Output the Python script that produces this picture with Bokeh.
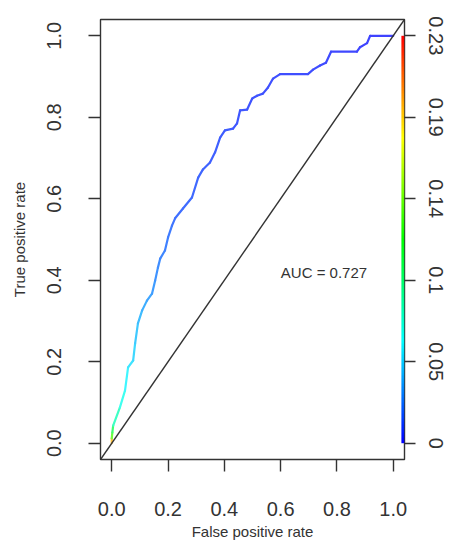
import colorsys
import numpy as np
from bokeh.plotting import figure
from bokeh.models import Range1d, LinearAxis, FixedTicker, Slope, LinearColorMapper, ColumnDataSource, Label
from bokeh.transform import linear_cmap
from bokeh.embed import file_html
from bokeh.resources import INLINE

# ---- data ----
fpr = [0.000, 0.000, 0.002, 0.005, 0.029, 0.047, 0.058, 0.076, 0.083, 0.093,
       0.108, 0.125, 0.143, 0.154, 0.164, 0.172, 0.189, 0.200, 0.214, 0.225,
       0.253, 0.285, 0.307, 0.324, 0.349, 0.367, 0.385, 0.402, 0.431, 0.445,
       0.456, 0.481, 0.499, 0.516, 0.537, 0.555, 0.573, 0.598, 0.697, 0.715,
       0.740, 0.761, 0.779, 0.871, 0.882, 0.907, 0.918, 1.000]
tpr = [0.000, 0.012, 0.026, 0.043, 0.088, 0.129, 0.186, 0.203, 0.245, 0.294,
       0.326, 0.350, 0.367, 0.399, 0.431, 0.453, 0.473, 0.505, 0.534, 0.552,
       0.576, 0.603, 0.652, 0.672, 0.689, 0.714, 0.750, 0.768, 0.772, 0.785,
       0.817, 0.819, 0.846, 0.853, 0.858, 0.873, 0.895, 0.906, 0.906, 0.917,
       0.927, 0.934, 0.961, 0.961, 0.972, 0.982, 1.000, 1.000]
cutoff = [0.230, 0.190, 0.130, 0.100, 0.075, 0.062, 0.055, 0.050, 0.046, 0.042,
          0.038, 0.034, 0.031, 0.028, 0.026, 0.024, 0.022, 0.020, 0.018, 0.017,
          0.015, 0.014, 0.013, 0.012, 0.011, 0.010, 0.010, 0.009, 0.009, 0.008,
          0.008, 0.008, 0.007, 0.007, 0.007, 0.006, 0.006, 0.006, 0.005, 0.005,
          0.005, 0.004, 0.004, 0.003, 0.003, 0.002, 0.002, 0.001]

x_ticks = [0.0, 0.2, 0.4, 0.6, 0.8, 1.0]
x_tick_labels = ["0.0", "0.2", "0.4", "0.6", "0.8", "1.0"]
y_ticks = [0.0, 0.2, 0.4, 0.6, 0.8, 1.0]
y_tick_labels = ["0.0", "0.2", "0.4", "0.6", "0.8", "1.0"]
cb_ticks = [0.0, 0.2, 0.4, 0.6, 0.8, 1.0]
cb_labels = ["0", "0.05", "0.1", "0.14", "0.19", "0.23"]
cb_low, cb_high = 0.0, 0.23
auc_label = "AUC = 0.727"
auc_x, auc_y = 0.754, 0.419
x_title = "False positive rate"
y_title = "True positive rate"

# ---- styling ----
FONT = "Liberation Sans"
INK = "#333333"
rainbow = []
rainbow_soft = []
for i in range(256):
    h = (1 - i / 255) * (240 / 360)
    r, g, b = colorsys.hsv_to_rgb(h, 1, 1)
    rainbow.append("#%02x%02x%02x" % (int(r * 255), int(g * 255), int(b * 255)))
    rs, gs, bs = [int(0.75 * c * 255 + 0.25 * 255) for c in (r, g, b)]
    rainbow_soft.append("#%02x%02x%02x" % (rs, gs, bs))

xr = (-0.04, 1.04)
yr = (-0.04, 1.04)

p = figure(width=451, height=545, x_range=Range1d(*xr), y_range=Range1d(*yr),
           output_backend="svg", toolbar_location=None,
           min_border_left=100, min_border_top=19, min_border_right=47, min_border_bottom=86)
p.xgrid.visible = False
p.ygrid.visible = False
p.outline_line_color = INK
p.outline_line_width = 1.4
p.background_fill_color = "white"
p.border_fill_color = "white"

def style_axis(ax, ticks, labels, tick_out, standoff):
    ax.ticker = FixedTicker(ticks=ticks)
    ax.major_label_overrides = {t: l for t, l in zip(ticks, labels)}
    ax.minor_tick_line_color = None
    ax.major_tick_in = 0
    ax.major_tick_out = tick_out
    ax.major_tick_line_color = INK
    ax.major_tick_line_width = 1.4
    ax.axis_line_color = None
    ax.major_label_text_font = FONT
    ax.major_label_text_font_size = "20px"
    ax.major_label_text_color = INK
    ax.major_label_standoff = standoff
    ax.axis_label_text_font = FONT
    ax.axis_label_text_font_size = "15px"
    ax.axis_label_text_font_style = "normal"
    ax.axis_label_text_color = INK

style_axis(p.xaxis[0], x_ticks, x_tick_labels, 12, 30)
p.xaxis.axis_label = x_title
p.xaxis.axis_label_standoff = 4
style_axis(p.yaxis[0], y_ticks, y_tick_labels, 12, 27)
p.yaxis.axis_label = y_title
p.yaxis.axis_label_standoff = 17
p.yaxis.major_label_orientation = "vertical"

right = LinearAxis()
style_axis(right, cb_ticks, cb_labels, 11, 13)
right.major_label_orientation = "vertical"
p.add_layout(right, "right")

strip_mapper = LinearColorMapper(palette=rainbow, low=cb_low, high=cb_high)

# colour key strip along the right edge of the frame
strip_w = 0.011
p.image(image=[np.linspace(cb_low, cb_high, 256).reshape(256, 1)],
        x=xr[1] - strip_w, y=0, dw=strip_w, dh=1, color_mapper=strip_mapper)

# chance diagonal
p.add_layout(Slope(gradient=1, y_intercept=0, line_color=INK, line_width=1.4))

# coloured ROC curve
src = ColumnDataSource(dict(x0=fpr[:-1], y0=tpr[:-1], x1=fpr[1:], y1=tpr[1:], c=cutoff[1:]))
p.segment("x0", "y0", "x1", "y1", source=src,
          line_color=linear_cmap("c", rainbow_soft, cb_low, cb_high),
          line_width=2.2, line_cap="round")

p.add_layout(Label(x=auc_x, y=auc_y, text=auc_label, text_font=FONT, text_font_size="15px",
                   text_color=INK, text_align="center", text_baseline="middle"))

open("out.html", "w").write(file_html(p, INLINE))
